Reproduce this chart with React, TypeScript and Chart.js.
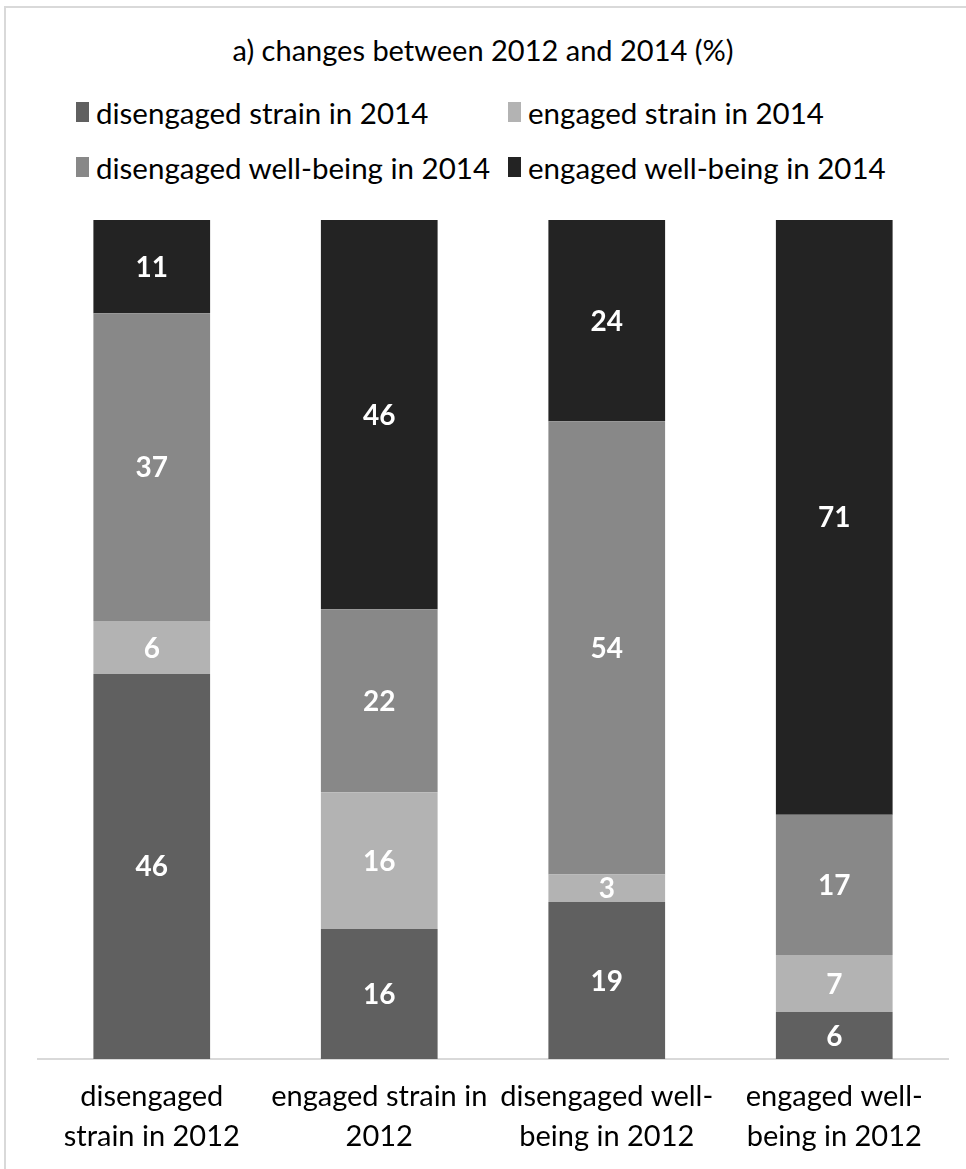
import React, { useEffect, useRef } from "react";
import { Chart, registerables } from "chart.js";

Chart.register(...registerables);

const title = "a) changes between 2012 and 2014 (%)";
const categories: string[][] = [
  ["disengaged", "strain in 2012"],
  ["engaged strain in", "2012"],
  ["disengaged well-", "being in 2012"],
  ["engaged well-", "being in 2012"],
];
const seriesNames = [
  "disengaged strain in 2014",
  "engaged strain in 2014",
  "disengaged well-being in 2014",
  "engaged well-being in 2014",
];
// percentages per 2012 group (shown rounded)
const disengagedStrain = [45.9, 15.5, 18.7, 5.6];
const engagedStrain = [6.3, 16.3, 3.3, 6.8];
const disengagedWellBeing = [36.7, 21.8, 54.0, 16.7];
const engagedWellBeing = [11.1, 46.4, 24.0, 70.9];
const seriesColors = ["#606060", "#b3b3b3", "#888888", "#232323"];

const FONT = "Lato, 'Noto Sans', sans-serif";

const allSeries = [disengagedStrain, engagedStrain, disengagedWellBeing, engagedWellBeing];

const labelPlugin = {
  id: "segLabels",
  afterDatasetsDraw(chart: any) {
    const ctx = chart.ctx;
    ctx.save();
    ctx.fillStyle = "#ffffff";
    ctx.font = `bold 28px ${FONT}`;
    ctx.textAlign = "center";
    ctx.textBaseline = "middle";
    chart.data.datasets.forEach((ds: any, di: number) => {
      const meta = chart.getDatasetMeta(di);
      meta.data.forEach((el: any, i: number) => {
        const v = ds.data[i];
        ctx.fillText(String(Math.round(v)), el.x, (el.y + el.base) / 2 + 1);
      });
    });
    ctx.restore();
  },
};

export default function App() {
  const ref = useRef<HTMLCanvasElement | null>(null);
  useEffect(() => {
    if (!ref.current) return;
    const chart = new Chart(ref.current, {
      type: "bar",
      data: {
        labels: categories,
        datasets: allSeries.map((arr, k) => ({
          label: seriesNames[k],
          data: arr,
          backgroundColor: seriesColors[k],
          borderWidth: 0,
          categoryPercentage: 1,
          barPercentage: 0.513,
        })),
      },
      options: {
        animation: false,
        responsive: false,
        maintainAspectRatio: false,
        layout: { padding: { top: 220, left: 38, right: 18, bottom: 0 } },
        plugins: { legend: { display: false }, title: { display: false }, tooltip: { enabled: false } },
        scales: {
          x: {
            stacked: true,
            grid: { display: false, drawTicks: false },
            border: { display: true, color: "#d9d9d9", width: 2 },
            ticks: {
              color: "#000000",
              font: { family: FONT, size: 29, lineHeight: 1.38 },
              padding: 18,
              maxRotation: 0,
              autoSkip: false,
            },
            afterFit: (scale: any) => {
              scale.height = 110;
            },
          },
          y: { stacked: true, display: false, min: 0, max: 100 },
        },
      },
      plugins: [labelPlugin],
    });
    return () => chart.destroy();
  }, []);

  const legendItem = (k: number, left: number, top: number) => (
    <div
      key={k}
      style={{
        position: "absolute",
        left,
        top,
        height: 40,
        display: "flex",
        alignItems: "center",
        whiteSpace: "nowrap",
      }}
    >
      <span style={{ display: "inline-block", width: 13, height: 20, background: seriesColors[k], marginRight: 7 }} />
      <span style={{ fontFamily: FONT, fontSize: 29.5, color: "#000" }}>{seriesNames[k]}</span>
    </div>
  );

  return (
    <div style={{ position: "absolute", left: 0, top: 0, width: 966, height: 1169, background: "#fff", overflow: "hidden" }}>
      <div
        style={{
          position: "absolute",
          left: 4,
          top: 6,
          width: 1000,
          height: 1200,
          border: "2px solid #d9d9d9",
          boxSizing: "border-box",
        }}
      />
      <div
        style={{
          position: "absolute",
          left: 0,
          top: 30,
          width: 966,
          textAlign: "center",
          fontFamily: FONT,
          fontSize: 29,
          color: "#000",
          lineHeight: "40px",
        }}
      >
        {title}
      </div>
      {legendItem(0, 76, 92)}
      {legendItem(1, 508, 92)}
      {legendItem(2, 76, 147)}
      {legendItem(3, 508, 147)}
      <canvas ref={ref} width={966} height={1169} style={{ position: "absolute", left: 0, top: 0, width: 966, height: 1169 }} />
    </div>
  );
}
